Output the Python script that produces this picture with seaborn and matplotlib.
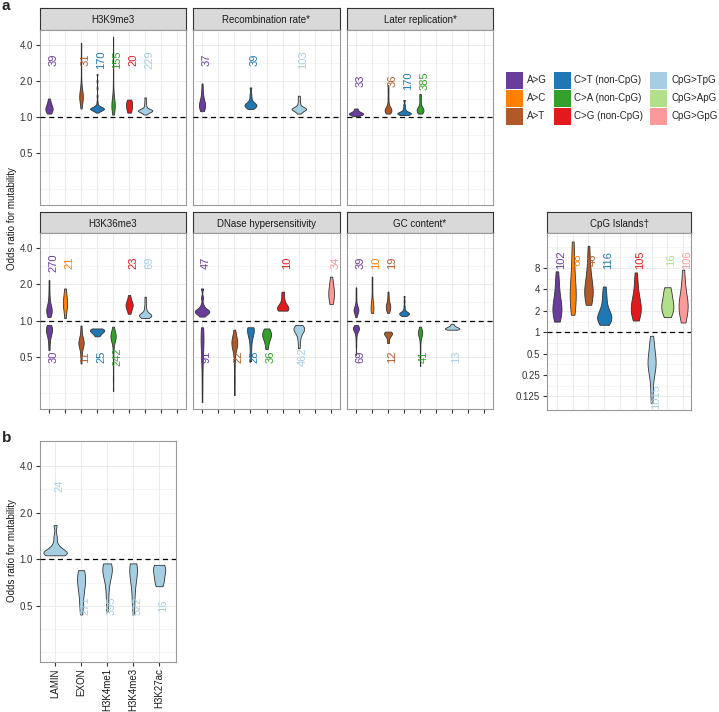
import numpy as np
import pandas as pd
import seaborn as sns
import matplotlib.pyplot as plt
from matplotlib import transforms
from matplotlib.patches import Patch
from matplotlib.ticker import FixedLocator, FixedFormatter, NullFormatter

categories = ["A>G", "A>C", "A>T", "C>T", "C>A", "C>G", "CpG>TpG", "CpG>ApG", "CpG>GpG"]
legend_labels = ["A>G", "A>C", "A>T", "C>T (non-CpG)", "C>A (non-CpG)", "C>G (non-CpG)",
                 "CpG>TpG", "CpG>ApG", "CpG>GpG"]
colors = ["#6a3d9a", "#ff7f00", "#b15928", "#1f78b4", "#33a02c", "#e31a1c",
          "#a6cee3", "#b2df8a", "#fb9a99"]

# H3K9me3
h3k9me3_cats = ["A>G", "A>T", "C>T", "C>A", "C>G", "CpG>TpG"]
h3k9me3_n = [39, 31, 170, 155, 20, 229]
h3k9me3_odds = [
    [1.07, 1.1, 1.13, 1.15, 1.17, 1.19, 1.21, 1.24, 1.28, 1.34, 1.43],
    [1.18, 1.3, 1.38, 1.42, 1.45, 1.47, 1.49, 1.51, 1.53, 1.56, 1.62, 1.75, 2.0, 2.6, 3.3, 4.18],
    [1.09, 1.12, 1.14, 1.15, 1.155, 1.16, 1.165, 1.17, 1.172, 1.175, 1.178, 1.18, 1.183,
     1.185, 1.19, 1.2, 1.21, 1.23, 1.27, 1.35, 1.5, 1.75, 2.0, 2.29],
    [1.05, 1.12, 1.18, 1.21, 1.23, 1.25, 1.26, 1.27, 1.28, 1.3, 1.33, 1.4, 1.6, 1.9, 2.5,
     3.4, 4.7],
    [1.09, 1.13, 1.17, 1.21, 1.25, 1.29, 1.33, 1.37, 1.4],
    [1.05, 1.08, 1.1, 1.11, 1.12, 1.125, 1.13, 1.135, 1.14, 1.145, 1.15, 1.16, 1.18, 1.22,
     1.28, 1.36, 1.46],
]

# Recombination rate
recomb_cats = ["A>G", "C>T", "CpG>TpG"]
recomb_n = [37, 39, 103]
recomb_odds = [
    [1.12, 1.17, 1.2, 1.23, 1.25, 1.27, 1.3, 1.34, 1.4, 1.5, 1.65, 1.91],
    [1.17, 1.2, 1.22, 1.24, 1.25, 1.26, 1.27, 1.28, 1.3, 1.34, 1.42, 1.55, 1.77],
    [1.07, 1.1, 1.13, 1.15, 1.16, 1.165, 1.17, 1.175, 1.18, 1.19, 1.21, 1.25, 1.32, 1.41, 1.51],
]

# Later replication
replic_cats = ["A>G", "A>T", "C>T", "C>A"]
replic_n = [33, 36, 170, 385]
replic_odds = [
    [1.02, 1.04, 1.05, 1.06, 1.07, 1.07, 1.08, 1.09, 1.11, 1.14, 1.18],
    [1.07, 1.1, 1.12, 1.13, 1.135, 1.14, 1.145, 1.15, 1.16, 1.18, 1.22, 1.3, 1.45, 1.65, 1.85],
    [1.04, 1.05, 1.06, 1.065, 1.07, 1.075, 1.08, 1.085, 1.09, 1.1, 1.13, 1.18, 1.26, 1.39],
    [1.07, 1.1, 1.12, 1.13, 1.135, 1.14, 1.145, 1.15, 1.16, 1.18, 1.22, 1.3, 1.4, 1.5, 1.56],
]

# H3K36me3
h3k36me3_cats = ["A>G", "A>C", "C>G", "CpG>TpG", "A>G", "A>T", "C>T", "C>A"]
h3k36me3_n = [270, 21, 23, 69, 30, 11, 25, 242]
h3k36me3_odds = [
    [1.07, 1.12, 1.16, 1.19, 1.21, 1.22, 1.24, 1.27, 1.32, 1.4, 1.55, 1.8, 2.17],
    [1.05, 1.15, 1.25, 1.32, 1.37, 1.4, 1.43, 1.5, 1.6, 1.72, 1.85],
    [1.14, 1.22, 1.28, 1.32, 1.35, 1.38, 1.42, 1.5, 1.63],
    [1.05, 1.07, 1.08, 1.09, 1.095, 1.1, 1.105, 1.11, 1.115, 1.12, 1.13, 1.15, 1.19, 1.25,
     1.33, 1.45, 1.58],
    [0.57, 0.66, 0.72, 0.77, 0.8, 0.82, 0.84, 0.85, 0.87, 0.9, 0.92],
    [0.44, 0.52, 0.58, 0.61, 0.63, 0.645, 0.66, 0.675, 0.69, 0.72, 0.8, 0.91],
    [0.74, 0.77, 0.79, 0.81, 0.82, 0.83, 0.84, 0.85, 0.86],
    [0.26, 0.33, 0.42, 0.52, 0.6, 0.66, 0.69, 0.71, 0.72, 0.73, 0.735, 0.74, 0.745, 0.75,
     0.76, 0.78, 0.81, 0.85, 0.89],
]

# DNase hypersensitivity
dnase_cats = ["A>G", "C>G", "CpG>GpG", "A>G", "A>T", "C>T", "C>A", "CpG>TpG"]
dnase_n = [47, 10, 34, 91, 22, 28, 36, 462]
dnase_odds = [
    [1.08, 1.12, 1.15, 1.17, 1.18, 1.19, 1.2, 1.21, 1.23, 1.27, 1.35, 1.55, 1.85],
    [1.21, 1.23, 1.25, 1.27, 1.29, 1.32, 1.4, 1.55, 1.74],
    [1.37, 1.45, 1.55, 1.62, 1.68, 1.74, 1.82, 1.95, 2.1, 2.32],
    [0.21, 0.3, 0.4, 0.5, 0.58, 0.64, 0.69, 0.72, 0.75, 0.78, 0.82, 0.88],
    [0.24, 0.32, 0.42, 0.52, 0.58, 0.61, 0.63, 0.64, 0.65, 0.66, 0.67, 0.69, 0.72, 0.78, 0.84],
    [0.46, 0.55, 0.65, 0.74, 0.79, 0.82, 0.84, 0.85, 0.86, 0.87, 0.88],
    [0.58, 0.64, 0.69, 0.72, 0.74, 0.76, 0.78, 0.8, 0.83, 0.86],
    [0.59, 0.66, 0.72, 0.77, 0.8, 0.82, 0.84, 0.85, 0.86, 0.87, 0.88, 0.9, 0.92],
]

# GC content
gc_cats = ["A>G", "A>C", "A>T", "C>T", "A>G", "A>T", "C>A", "CpG>TpG"]
gc_n = [39, 10, 19, None, 69, 12, 41, 13]
gc_odds = [
    [1.07, 1.12, 1.16, 1.19, 1.205, 1.215, 1.225, 1.235, 1.245, 1.26, 1.28, 1.32, 1.4, 1.55,
     1.7, 1.89],
    [1.16, 1.2, 1.23, 1.25, 1.26, 1.27, 1.28, 1.3, 1.34, 1.42, 1.6, 1.85, 2.1, 2.32],
    [1.16, 1.21, 1.25, 1.28, 1.3, 1.32, 1.34, 1.38, 1.45, 1.58, 1.74],
    [1.09, 1.11, 1.12, 1.13, 1.135, 1.14, 1.145, 1.15, 1.155, 1.16, 1.17, 1.19, 1.24, 1.32,
     1.45, 1.6],
    [0.52, 0.62, 0.7, 0.76, 0.8, 0.825, 0.84, 0.85, 0.855, 0.86, 0.865, 0.87, 0.875, 0.88,
     0.9, 0.92],
    [0.65, 0.7, 0.74, 0.76, 0.77, 0.78, 0.79, 0.8, 0.81],
    [0.42, 0.5, 0.58, 0.66, 0.72, 0.75, 0.77, 0.78, 0.785, 0.79, 0.795, 0.8, 0.81, 0.83,
     0.86, 0.89],
    [0.84, 0.845, 0.85, 0.855, 0.86, 0.865, 0.87, 0.88, 0.89, 0.91, 0.94],
]

# CpG Islands
cpg_cats = ["A>G", "A>C", "A>T", "C>T", "C>G", "CpG>TpG", "CpG>ApG", "CpG>GpG"]
cpg_n = [102, 68, 46, 116, 105, 1015, 16, 106]
cpg_odds = [
    [1.41, 1.6, 1.75, 1.9, 2.0, 2.1, 2.2, 2.4, 2.7, 3.1, 3.7, 4.6, 5.8, 7.2],
    [1.76, 2.1, 2.5, 2.8, 3.1, 3.3, 3.6, 4.1, 4.8, 5.8, 7.5, 10.5, 14.0, 19.0],
    [2.43, 2.7, 3.0, 3.3, 3.6, 3.8, 4.1, 4.5, 5.2, 6.2, 7.8, 10.5, 16.5],
    [1.27, 1.38, 1.47, 1.53, 1.57, 1.6, 1.65, 1.72, 1.85, 2.05, 2.4, 2.9, 3.5, 4.4],
    [1.46, 1.6, 1.8, 1.95, 2.1, 2.2, 2.35, 2.55, 2.85, 3.3, 4.0, 5.2, 6.95],
    [0.1, 0.14, 0.2, 0.26, 0.3, 0.33, 0.35, 0.37, 0.39, 0.42, 0.47, 0.55, 0.66, 0.78, 0.89],
    [1.63, 1.8, 1.95, 2.1, 2.2, 2.3, 2.45, 2.65, 2.9, 3.3, 3.8, 4.1, 4.3],
    [1.37, 1.55, 1.8, 2.0, 2.2, 2.35, 2.5, 2.7, 3.0, 3.5, 4.2, 5.4, 7.6],
]

# panel b
b_cats = ["LAMIN", "EXON", "H3K4me1", "H3K4me3", "H3K27ac"]
b_n = [24, 271, 395, 522, 16]
b_odds = [
    [1.06, 1.07, 1.08, 1.09, 1.1, 1.11, 1.12, 1.14, 1.18, 1.25, 1.4, 1.66],
    [0.44, 0.5, 0.56, 0.62, 0.68, 0.72, 0.74, 0.76, 0.78, 0.81, 0.85],
    [0.46, 0.55, 0.64, 0.72, 0.78, 0.82, 0.85, 0.87, 0.88, 0.9, 0.92, 0.94],
    [0.44, 0.52, 0.6, 0.68, 0.75, 0.8, 0.84, 0.86, 0.88, 0.9, 0.92, 0.94],
    [0.67, 0.69, 0.72, 0.76, 0.8, 0.84, 0.87, 0.89, 0.91, 0.92],
]

sns.set_style("white")
plt.rcParams["font.family"] = ["Liberation Sans", "DejaVu Sans"]

W, H = 719, 712
fig = plt.figure(figsize=(W / 100, H / 100), dpi=100)
color_of = dict(zip(categories, colors))


def nrd0(kde):
    # R's default bandwidth (what ggplot's geom_violin uses), as a factor of the sd
    x = kde.dataset[0]
    sd = x.std(ddof=1)
    q75, q25 = np.percentile(x, [75, 25])
    lo = min(sd, (q75 - q25) / 1.34)
    if lo <= 0:
        lo = sd
    return 0.9 * lo * len(x) ** -0.2 / sd


def add_px(l, t, r, b):
    return fig.add_axes([l / W, 1 - b / H, (r - l) / W, (b - t) / H])


def strip(l, t, r, b, text):
    s = add_px(l, t, r, b)
    s.set_facecolor("#d9d9d9")
    s.set_xticks([])
    s.set_yticks([])
    for sp in s.spines.values():
        sp.set_color("#333333")
        sp.set_linewidth(0.8)
    s.text(0.5, 0.45, text, ha="center", va="center", fontsize=7, color="#1a1a1a")


def violins(ax, order, cats, odds, counts, cmap, up_y, down_y, bw=1.3):
    rows = []
    for c, vals in zip(cats, odds):
        d = "up" if np.median(vals) > 1 else "down"
        for v in vals:
            rows.append((c, c + "|" + d, v))
    df = pd.DataFrame(rows, columns=["cat", "grp", "val"])
    grps = list(dict.fromkeys(df["grp"]))
    pal = {g: cmap[g.split("|")[0]] for g in grps}
    sns.violinplot(data=df, x="cat", y="val", hue="grp", order=order, hue_order=grps,
                   palette=pal, dodge=False, cut=0, inner=None, density_norm="area",
                   common_norm=True, width=0.9, linewidth=0.6, linecolor="#333333",
                   saturation=1, bw_method=nrd0, bw_adjust=bw, log_scale=2,
                   legend=False, ax=ax)
    off = transforms.offset_copy(ax.transData, fig=fig, x=3, y=0, units="points")
    for c, vals, n in zip(cats, odds, counts):
        if n is None:
            continue
        y = up_y if np.median(vals) > 1 else down_y
        ax.text(order.index(c), y, str(n), transform=off, rotation=90, ha="center",
                va="center", color=cmap[c], fontsize=8)


def style(ax, xlim, ylim, major, labels, minor, show_y, xticks):
    ax.set_xlim(xlim)
    ax.set_ylim(ylim)
    ax.set_xlabel("")
    ax.set_ylabel("")
    ax.yaxis.set_major_locator(FixedLocator(major))
    ax.yaxis.set_major_formatter(FixedFormatter(labels) if show_y else NullFormatter())
    ax.yaxis.set_minor_locator(FixedLocator(minor))
    ax.yaxis.set_minor_formatter(NullFormatter())
    ax.grid(True, which="major", color="#ebebeb", lw=0.7)
    ax.grid(True, which="minor", axis="y", color="#f2f2f2", lw=0.5)
    ax.set_axisbelow(True)
    ax.axhline(1, color="black", ls=(0, (4, 3)), lw=0.9, zorder=3)
    ax.tick_params(axis="y", which="major", length=3 if show_y else 0, color="#333333",
                   labelsize=7, labelcolor="#333333", pad=2, left=show_y)
    ax.tick_params(axis="y", which="minor", length=0)
    ax.tick_params(axis="x", length=3 if xticks else 0, color="#333333", labelbottom=False,
                   bottom=xticks)
    for sp in ax.spines.values():
        sp.set_color("#999999")
        sp.set_linewidth(0.8)


a_major = [0.5, 1, 2, 4]
a_labels = ["0.5", "1.0", "2.0", "4.0"]
a_minor = [0.25, 0.354, 0.707, 1.414, 2.83]
a_ylim = (0.184, 5.35)
a_xlim = (-0.56, 8.55)

cols = [(40, 186), (193, 340), (347, 493)]
panels = [
    ("H3K9me3", h3k9me3_cats, h3k9me3_odds, h3k9me3_n, 0, 0, 3.0),
    ("Recombination rate*", recomb_cats, recomb_odds, recomb_n, 0, 1, 3.0),
    ("Later replication*", replic_cats, replic_odds, replic_n, 0, 2, 2.0),
    ("H3K36me3", h3k36me3_cats, h3k36me3_odds, h3k36me3_n, 1, 0, 3.0),
    ("DNase hypersensitivity", dnase_cats, dnase_odds, dnase_n, 1, 1, 3.0),
    ("GC content*", gc_cats, gc_odds, gc_n, 1, 2, 3.0),
]
rows_px = [(8, 30, 205), (212, 233, 409)]

for title, cats, odds, counts, r, c, up_y in panels:
    st, top, bot = rows_px[r]
    l, rt = cols[c]
    strip(l, st, rt, top, title)
    ax = add_px(l, top, rt, bot)
    violins(ax, categories, cats, odds, counts, color_of, up_y, 0.5)
    style(ax, a_xlim, a_ylim, a_major, a_labels, a_minor, c == 0, r == 1)

# CpG Islands panel
strip(547, 212, 691, 233, "CpG Islands\u2020")
ax = add_px(547, 233, 691, 410)
violins(ax, categories, cpg_cats, cpg_odds, cpg_n, color_of, 10.5, 0.125)
style(ax, (-0.63, 8.5), (0.08, 25), [0.125, 0.25, 0.5, 1, 2, 4, 8],
      ["0.125", "0.25", "0.5", "1", "2", "4", "8"],
      [0.177, 0.354, 0.707, 1.414, 2.83, 5.66, 11.3, 16, 22.6], True, False)

# panel b
bcmap = {k: "#a6cee3" for k in b_cats}
ax = add_px(40, 441, 176, 662)
violins(ax, b_cats, b_cats, b_odds, b_n, bcmap, 3.0, 0.5)
style(ax, (-0.58, 4.65), (0.217, 5.8), a_major, a_labels, a_minor, True, True)
ax.set_xticks(range(len(b_cats)))
ax.set_xticklabels(b_cats)
ax.tick_params(axis="x", labelbottom=True, labelrotation=90, labelsize=7,
               labelcolor="#1a1a1a", pad=1.5)

# legend
handles = [Patch(facecolor=col, edgecolor="none") for col in colors]
fig.legend(handles, legend_labels, ncol=3, loc="upper left",
           bbox_to_anchor=(506 / W, 1 - 72 / H), frameon=False, fontsize=7,
           handlelength=1.75, handleheight=2.3, handletextpad=0.4, columnspacing=0.7,
           labelspacing=0.1, borderpad=0, borderaxespad=0)

fig.text(12 / W, 1 - 219 / H, "Odds ratio for mutability", rotation=90, ha="center",
         va="center", fontsize=7, color="#1a1a1a")
fig.text(12 / W, 1 - 551 / H, "Odds ratio for mutability", rotation=90, ha="center",
         va="center", fontsize=7, color="#1a1a1a")
fig.text(2 / W, 1 - 6 / H, "a", fontweight="bold", fontsize=11, va="center")
fig.text(2 / W, 1 - 438 / H, "b", fontweight="bold", fontsize=11, va="center")

fig.savefig("out.png", dpi=100)
